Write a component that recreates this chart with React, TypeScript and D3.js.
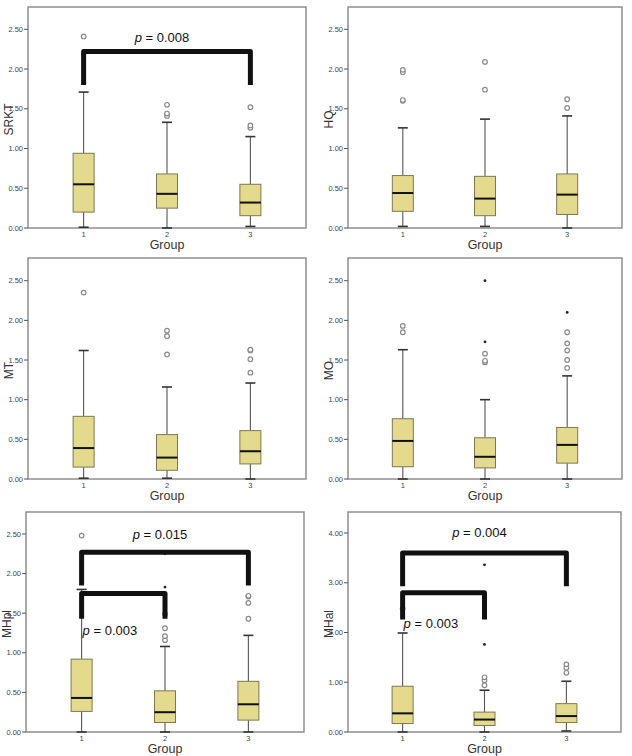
import * as d3 from "d3";

// five-number summaries per group: [low whisker, q1, median, q3, high whisker]
const groups = ["1", "2", "3"];

const srktStats = [[0.01, 0.2, 0.55, 0.94, 1.71], [0.0, 0.25, 0.43, 0.68, 1.33], [0.02, 0.155, 0.32, 0.55, 1.15]];
const srktOutliers = [[2.41], [1.41, 1.44, 1.55], [1.26, 1.29, 1.52]];
const srktExtremes = [[], [], []];

const hqStats = [[0.02, 0.21, 0.44, 0.66, 1.26], [0.02, 0.155, 0.37, 0.65, 1.37], [0.0, 0.17, 0.42, 0.68, 1.41]];
const hqOutliers = [[1.6, 1.61, 1.96, 1.99], [1.74, 2.09], [1.51, 1.62]];
const hqExtremes = [[], [], []];

const mtStats = [[0.01, 0.15, 0.39, 0.79, 1.62], [0.01, 0.11, 0.27, 0.56, 1.16], [0.0, 0.19, 0.35, 0.61, 1.21]];
const mtOutliers = [[2.35], [1.57, 1.8, 1.87], [1.34, 1.51, 1.62, 1.63]];
const mtExtremes = [[], [], []];

const moStats = [[0.0, 0.155, 0.48, 0.76, 1.63], [0.0, 0.14, 0.28, 0.52, 1.0], [0.0, 0.2, 0.43, 0.65, 1.3]];
const moOutliers = [[1.85, 1.93], [1.47, 1.49, 1.58], [1.4, 1.5, 1.62, 1.71, 1.85]];
const moExtremes = [[], [1.73, 2.5], [2.1]];

const mhplStats = [[0.0, 0.26, 0.43, 0.92, 1.8], [0.0, 0.12, 0.25, 0.52, 1.08], [0.0, 0.15, 0.35, 0.64, 1.22]];
const mhplOutliers = [[2.48], [1.16, 1.21, 1.31, 1.49], [1.43, 1.63, 1.71, 1.72]];
const mhplExtremes = [[], [1.83, 2.25], []];

const mhalStats = [[0.0, 0.17, 0.375, 0.92, 1.99], [0.0, 0.13, 0.25, 0.4, 0.84], [0.02, 0.19, 0.32, 0.57, 1.02]];
const mhalOutliers = [[2.48], [0.94, 1.04, 1.1], [1.19, 1.29, 1.36]];
const mhalExtremes = [[], [1.76, 3.36], []];

const ticks25 = [0, 0.5, 1, 1.5, 2, 2.5];
const ticks4 = [0, 1, 2, 3, 4];

// significance brackets: from group, to group, top value, leg end value, label
const srktBrackets = [{ a: "1", b: "3", top: 2.22, leg: 1.8, label: "0.008" }];
const mhplBrackets = [
  { a: "1", b: "3", top: 2.27, leg: 1.85, label: "0.015" },
  { a: "1", b: "2", top: 1.75, leg: 1.43, label: "0.003" },
];
const mhalBrackets = [
  { a: "1", b: "3", top: 3.6, leg: 2.93, label: "0.004" },
  { a: "1", b: "2", top: 2.8, leg: 2.26, label: "0.003" },
];

type Bracket = { a: string; b: string; top: number; leg: number; label: string };

const panels = [
  { name: "SRKT", stats: srktStats, out: srktOutliers, ext: srktExtremes, ticks: ticks25, brackets: srktBrackets,
    labels: [{ v: 2.34, at: "mid", anchor: "middle" }],
    x0: 28, x1: 306, top: 7, bottom: 228, yRef: 29.3 },
  { name: "HQ", stats: hqStats, out: hqOutliers, ext: hqExtremes, ticks: ticks25, brackets: [] as Bracket[], labels: [],
    x0: 348, x1: 622, top: 7, bottom: 228, yRef: 29.3 },
  { name: "MT", stats: mtStats, out: mtOutliers, ext: mtExtremes, ticks: ticks25, brackets: [] as Bracket[], labels: [],
    x0: 28, x1: 306, top: 258, bottom: 479, yRef: 280.7 },
  { name: "MO", stats: moStats, out: moOutliers, ext: moExtremes, ticks: ticks25, brackets: [] as Bracket[], labels: [],
    x0: 348, x1: 622, top: 258, bottom: 479, yRef: 280.7 },
  { name: "MHpl", stats: mhplStats, out: mhplOutliers, ext: mhplExtremes, ticks: ticks25, brackets: mhplBrackets,
    labels: [{ v: 2.44, at: "mid", anchor: "middle" }, { v: 1.22, at: "left", anchor: "start" }],
    x0: 26, x1: 304, top: 512, bottom: 732, yRef: 534 },
  { name: "MHal", stats: mhalStats, out: mhalOutliers, ext: mhalExtremes, ticks: ticks4, brackets: mhalBrackets,
    labels: [{ v: 3.92, at: "mid", anchor: "middle" }, { v: 2.09, at: "left", anchor: "start" }],
    x0: 348, x1: 621, top: 512, bottom: 732, yRef: 533 },
];

const FONT = "'Liberation Sans', Arial, sans-serif";

function Panel({ p }: { p: (typeof panels)[number] }) {
  const maxTick = p.ticks[p.ticks.length - 1];
  const y = d3.scaleLinear().domain([0, maxTick]).range([p.bottom, p.yRef]);
  const x = d3.scalePoint<string>().domain(groups).range([p.x0, p.x1]).padding(0.667);
  const bw = 21;
  const fmt = d3.format(".2f");
  const cx = (p.x0 + p.x1) / 2;
  const cy = (p.top + p.bottom) / 2;
  const line = d3.line();

  return (
    <g>
      <rect x={p.x0} y={p.top} width={p.x1 - p.x0} height={p.bottom - p.top} fill="white" stroke="#8e8e8e" strokeWidth={1.5} />
      {p.ticks.map((t) => (
        <g key={t}>
          <line x1={p.x0 - 4} x2={p.x0} y1={y(t)} y2={y(t)} stroke="#555" strokeWidth={1} />
          <text x={p.x0 - 5} y={y(t) + 2.5} fontSize={7.5} fill="#444" textAnchor="end" fontFamily={FONT}>{fmt(t)}</text>
        </g>
      ))}
      {groups.map((g) => (
        <text key={g} x={x(g)} y={p.bottom + 9} fontSize={7.5} fill="#444" textAnchor="middle" fontFamily={FONT}>{g}</text>
      ))}
      <text x={cx} y={p.bottom + 20.5} fontSize={12.5} fill="#333" textAnchor="middle" fontFamily={FONT}>Group</text>
      <text transform={`translate(${p.x0 - 15},${cy + 2}) rotate(-90)`} fontSize={12} fill="#333" textAnchor="middle" fontFamily={FONT}>{p.name}</text>

      {p.stats.map((s, i) => {
        const gx = x(groups[i]) as number;
        const [lo, q1, med, q3, hi] = s;
        return (
          <g key={i}>
            <line x1={gx} x2={gx} y1={y(lo)} y2={y(q1)} stroke="#555" strokeWidth={1.1} />
            <line x1={gx} x2={gx} y1={y(q3)} y2={y(hi)} stroke="#555" strokeWidth={1.1} />
            <line x1={gx - 5} x2={gx + 5} y1={y(lo)} y2={y(lo)} stroke="#333" strokeWidth={1.6} />
            <line x1={gx - 5} x2={gx + 5} y1={y(hi)} y2={y(hi)} stroke="#333" strokeWidth={1.6} />
            <rect x={gx - bw / 2} y={y(q3)} width={bw} height={y(q1) - y(q3)} fill="#e3da8e" stroke="#7d7850" strokeWidth={1} />
            <line x1={gx - bw / 2} x2={gx + bw / 2} y1={y(med)} y2={y(med)} stroke="#111" strokeWidth={2} />
            {p.out[i].map((v, j) => (
              <circle key={j} cx={gx} cy={y(v)} r={2.3} fill="white" stroke="#8a8a8a" strokeWidth={1.2} />
            ))}
            {p.ext[i].map((v, j) => (
              <circle key={"e" + j} cx={gx} cy={y(v)} r={1.4} fill="#222" />
            ))}
          </g>
        );
      })}

      {p.brackets.map((b, i) => {
        const xa = x(b.a) as number;
        const xb = x(b.b) as number;
        const d = line([[xa, y(b.leg)], [xa, y(b.top)], [xb, y(b.top)], [xb, y(b.leg)]]) as string;
        const lab = p.labels[i];
        const lx = lab.at === "mid" ? (xa + xb) / 2 - 5 : xa + 1;
        return (
          <g key={"b" + i}>
            <path d={d} fill="none" stroke="#111" strokeWidth={5} strokeLinejoin="round" />
            <text x={lx} y={y(lab.v)} fontSize={13} fill="#111" textAnchor={lab.anchor} fontFamily={FONT}>
              <tspan fontStyle="italic">p</tspan> = {b.label}
            </text>
          </g>
        );
      })}
    </g>
  );
}

export default function App() {
  return (
    <svg width={632} height={756} style={{ position: "absolute", left: 0, top: 0, background: "white" }}>
      {panels.map((p) => (
        <Panel key={p.name} p={p} />
      ))}
    </svg>
  );
}
